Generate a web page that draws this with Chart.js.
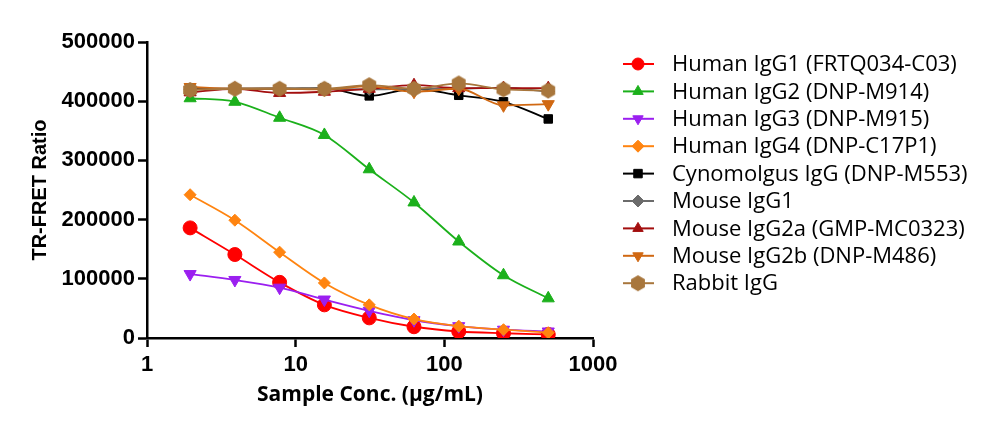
<!DOCTYPE html>
<html>
<head>
<meta charset="utf-8">
<script src="https://cdn.jsdelivr.net/npm/chart.js@4"></script>
<style>
  html, body { margin: 0; padding: 0; background: #fff; }
  #wrap { width: 1000px; height: 431px; }
</style>
</head>
<body>
<div id="wrap"><canvas id="FretChart" width="1000" height="431"></canvas></div>
<script>
const concs = [1.95, 3.9, 7.8, 15.6, 31.25, 62.5, 125, 250, 500];
const xTicks = [1, 10, 100, 1000];
const yTicks = [0, 100000, 200000, 300000, 400000, 500000];

const seriesNames = [
  'Human IgG1 (FRTQ034-C03)',
  'Human IgG2 (DNP-M914)',
  'Human IgG3 (DNP-M915)',
  'Human IgG4 (DNP-C17P1)',
  'Cynomolgus IgG (DNP-M553)',
  'Mouse IgG1',
  'Mouse IgG2a (GMP-MC0323)',
  'Mouse IgG2b (DNP-M486)',
  'Rabbit IgG'
];

const humanIgG1 = [186000, 141000, 94000, 56000, 34000, 19000, 11000, 8000, 6000];
const humanIgG2 = [405000, 399000, 372000, 343000, 285000, 229000, 163000, 106000, 67000];
const humanIgG3 = [108000, 98000, 85000, 65000, 46000, 30000, 20000, 14000, 11000];
const humanIgG4 = [242000, 199000, 145000, 93000, 56000, 32000, 20000, 14000, 9000];
const cynoIgG = [421000, 421000, 421000, 422000, 409000, 421000, 410000, 399000, 370000];
const mouseIgG1 = [420000, 421000, 422000, 421000, 420000, 421000, 421000, 423000, 416000];
const mouseIgG2a = [415000, 421000, 414000, 416000, 421000, 427000, 422000, 422000, 422000];
const mouseIgG2b = [424000, 421000, 421000, 420000, 425000, 416000, 421000, 393000, 395000];
const rabbitIgG = [419000, 421000, 421000, 421000, 427000, 421000, 430000, 420000, 418000];

// hexagon marker, chart.js has none built in
function hexagon(color, r) {
  const c = document.createElement('canvas');
  const s = r * 2 + 2;
  c.width = s; c.height = s;
  const g = c.getContext('2d');
  g.beginPath();
  for (let k = 0; k < 6; k++) {
    const a = Math.PI / 3 * k + Math.PI / 6;
    const px = s / 2 + r * Math.cos(a), py = s / 2 + r * Math.sin(a);
    if (k === 0) g.moveTo(px, py); else g.lineTo(px, py);
  }
  g.closePath();
  g.fillStyle = color;
  g.fill();
  return c;
}

function makeSet(i, values, color, style, radius, rotation) {
  return {
    label: seriesNames[i],
    data: concs.map((c, k) => ({x: c, y: values[k]})),
    borderColor: color,
    backgroundColor: color,
    pointBorderColor: color,
    pointBackgroundColor: color,
    pointStyle: style,
    pointRadius: radius,
    pointRotation: rotation || 0,
    pointBorderWidth: 1,
    borderWidth: 1.8,
    cubicInterpolationMode: 'monotone',
    order: 9 - i
  };
}

const rabbitColor = '#a8763c';
const datasets = [
  makeSet(0, humanIgG1, '#ff0000', 'circle', 7),
  makeSet(1, humanIgG2, '#1bb01b', 'triangle', 7),
  makeSet(2, humanIgG3, '#9b1ff0', 'triangle', 7, 180),
  makeSet(3, humanIgG4, '#ff8410', 'rectRot', 6),
  makeSet(4, cynoIgG, '#000000', 'rect', 6),
  makeSet(5, mouseIgG1, '#6b6b6b', 'rectRot', 6),
  makeSet(6, mouseIgG2a, '#a30e0e', 'triangle', 7),
  makeSet(7, mouseIgG2b, '#d06812', 'triangle', 7, 180),
  makeSet(8, rabbitIgG, rabbitColor, hexagon(rabbitColor, 8), 8)
];

const legendPlugin = {
  id: 'sideLegend',
  afterDraw(chart) {
    const ctx = chart.ctx;
    ctx.save();
    chart.data.datasets.forEach((ds, i) => {
      const y = 64 + i * 27.4;
      ctx.strokeStyle = ds.borderColor;
      ctx.lineWidth = 2;
      ctx.beginPath();
      ctx.moveTo(623, y);
      ctx.lineTo(654, y);
      ctx.stroke();
      ctx.fillStyle = ds.pointBackgroundColor;
      ctx.strokeStyle = ds.pointBorderColor;
      ctx.lineWidth = 1;
      Chart.helpers.drawPoint(ctx, {
        pointStyle: ds.pointStyle,
        radius: 6,
        rotation: ds.pointRotation,
        borderWidth: 1
      }, 638, y);
      ctx.fillStyle = '#000';
      ctx.font = '22px "Open Sans"';
      ctx.textBaseline = 'middle';
      ctx.fillText(ds.label, 672, y + 1);
    });
    ctx.restore();
  }
};

const config = {
  type: 'line',
  data: {datasets: datasets},
  options: {
    responsive: false,
    animation: false,
    layout: {padding: {top: 42, right: 407, left: 0, bottom: 0}},
    scales: {
      x: {
        type: 'logarithmic',
        min: 1,
        max: 1000,
        afterBuildTicks: (scale) => { scale.ticks = xTicks.map(v => ({value: v})); },
        afterFit: (scale) => { scale.height = 93; },
        border: {display: true, color: '#000', width: 2.5},
        grid: {display: true, drawOnChartArea: false, drawTicks: true, tickLength: 9, tickColor: '#000', tickWidth: 2.5},
        ticks: {
          color: '#000',
          padding: 5,
          maxRotation: 0,
          font: {family: '"Liberation Sans", Arial', size: 22, weight: 'bold'},
          callback: (v) => String(v)
        },
        title: {
          display: true,
          text: 'Sample Conc. (μg/mL)',
          color: '#000',
          padding: {top: 0, bottom: 23},
          font: {family: '"Open Sans"', size: 21, weight: 'bold'}
        }
      },
      y: {
        min: 0,
        max: 500000,
        afterBuildTicks: (scale) => { scale.ticks = yTicks.map(v => ({value: v})); },
        afterFit: (scale) => { scale.width = 147; },
        border: {display: true, color: '#000', width: 2.5},
        grid: {display: true, drawOnChartArea: false, drawTicks: true, tickLength: 9, tickColor: '#000', tickWidth: 2.5},
        ticks: {
          color: '#000',
          padding: 3,
          font: {family: '"Liberation Sans", Arial', size: 22, weight: 'bold'},
          callback: (v) => String(v)
        },
        title: {
          display: true,
          text: 'TR-FRET Ratio',
          color: '#000',
          padding: {top: 28, bottom: 0},
          font: {family: '"Liberation Sans", Arial', size: 20, weight: 'bold'}
        }
      }
    },
    plugins: {
      legend: {display: false},
      tooltip: {enabled: false}
    }
  },
  plugins: [legendPlugin]
};

new Chart(document.getElementById('FretChart'), config);
</script>
</body>
</html>
